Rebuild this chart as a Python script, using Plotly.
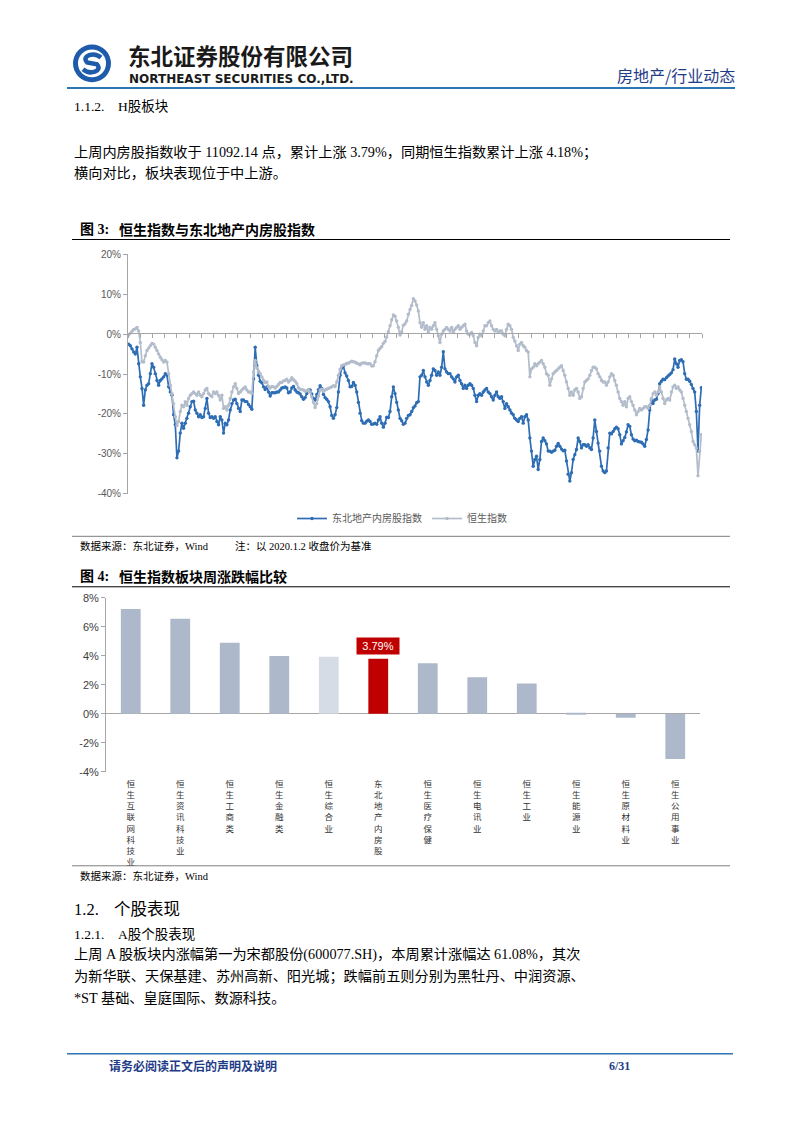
import plotly.graph_objects as go

W, H = 802, 1133

# ---------------- data: chart 1 (cumulative change since 2020.1.2, %) ----------------
series_names = ["东北地产内房股指数", "恒生指数"]

hk_property_a = [
    -2.5, -2.9, -3.7, -4.5, -5.0, -3.3, -7.4, -10.7, -13.6, -17.8,
    -14.0, -12.8, -12.4, -9.9, -7.4, -8.3, -9.9, -11.6, -12.8, -11.6,
    -11.2, -10.7, -9.9, -10.3, -13.2, -14.5, -15.3, -20.2, -22.7, -31.0,
    -29.3, -24.8, -22.3, -23.6, -22.3, -21.1, -19.8, -18.2, -16.9, -16.8,
    -19.0, -19.8, -20.7, -20.2, -20.9, -20.7, -18.6, -16.1, -19.8, -20.9,
    -20.7, -21.1, -20.7, -21.9, -22.7, -20.7, -21.5, -24.8, -22.3, -22.7,
    -21.5, -19.0, -17.4, -16.5, -16.3, -17.4, -18.6, -19.4, -16.5, -16.5,
    -16.9, -16.9, -17.6, -18.2, -18.8, -11.2, -3.3, -7.9, -10.3, -11.8,
    -12.2, -13.2, -13.9, -13.2, -14.5, -15.5, -14.7, -14.7, -14.7, -14.5,
    -14.5, -14.0, -13.5, -13.4, -13.2, -13.5, -14.7, -14.5, -13.5, -13.1,
    -14.0, -14.5, -14.7, -15.0, -15.7, -16.3, -15.9, -14.9, -14.0, -14.0,
    -15.0, -16.1, -16.5, -15.1, -13.9, -12.9, -13.6, -15.1, -15.9, -16.3,
    -16.9, -18.2, -20.4, -21.1, -20.2, -18.4, -14.5, -10.3, -8.5, -8.0,
    -9.7, -10.5, -11.6, -13.2, -13.1, -12.1, -12.8, -14.5, -17.1, -19.8,
    -21.7, -22.3, -22.3, -21.8, -21.5, -21.9, -22.6, -22.5, -22.3, -22.6,
    -21.5, -20.7, -22.3, -23.3, -22.3, -20.8, -20.9, -19.4, -15.7, -13.2,
    -14.9, -17.1, -19.0, -21.1, -21.7, -22.6, -22.3, -21.1, -20.4, -20.2,
    -19.4, -18.4, -18.0, -17.2, -16.9, -10.7, -10.3,
]
hk_property_b = [
    -9.1, -10.7, -12.0, -12.8, -11.6, -10.3, -8.7, -9.1, -10.3, -9.5,
    -10.3, -8.3, -4.4, -8.7, -9.5, -9.9, -9.9, -10.7, -11.2, -12.0,
    -10.7, -10.3, -11.6, -12.4, -13.6, -12.8, -13.6, -12.8, -12.4, -12.8,
    -13.6, -15.3, -16.9, -15.3, -14.9, -15.3, -14.5, -14.0, -13.6, -14.5,
    -14.9, -15.7, -16.5, -15.3, -14.5, -15.7, -16.1, -15.7, -16.9, -18.6,
    -17.4, -18.2, -19.0, -19.8, -20.2, -21.1, -21.5, -21.9, -21.1, -20.7,
    -22.3, -20.7, -20.2, -21.5, -26.0, -29.3, -33.1, -31.4, -30.6, -33.9,
    -31.4, -26.9, -26.0, -26.7, -27.5, -29.3, -29.3, -29.6, -29.3, -29.1,
    -28.1, -27.4, -28.1, -28.8, -29.2, -29.1, -31.8, -35.1, -36.8, -34.7,
    -31.4, -30.2, -28.9, -26.0, -26.9, -28.5, -27.7, -27.7, -28.1, -27.7,
    -28.5, -28.9, -26.0, -21.5, -24.4, -27.3, -29.3, -33.1, -34.3, -34.7,
    -34.3, -28.5, -24.8, -25.0, -24.4, -23.7, -23.3, -23.7, -25.2, -27.5,
    -26.7, -25.9, -24.5, -22.7, -23.1, -25.2, -26.3, -26.7, -26.6, -26.9,
    -27.0, -27.1, -27.5, -28.1, -26.4, -24.0, -19.0, -16.5, -17.4, -16.5,
    -16.3, -14.9, -12.4, -11.8, -11.3, -11.4, -10.9, -10.5, -10.1, -9.7,
    -8.9, -6.2, -7.4, -8.3, -6.6, -6.4, -6.9, -9.9, -11.3, -11.3,
    -11.8, -12.6, -13.6, -14.5, -19.4, -29.3, -17.8, -13.4,
]
hang_seng_a = [
    -0.2, 0.2, 0.7, 1.2, 1.3, 1.7, 0.8, -2.1, -6.9, -7.0,
    -5.4, -4.1, -3.5, -2.9, -2.3, -2.5, -3.3, -4.1, -5.0, -5.8,
    -6.4, -7.0, -6.6, -7.0, -9.9, -12.8, -14.9, -17.4, -20.7, -22.9,
    -21.9, -19.4, -17.8, -18.2, -16.9, -17.8, -16.1, -15.3, -14.9, -14.5,
    -14.9, -15.3, -14.5, -15.3, -15.7, -14.9, -14.0, -13.6, -14.9, -15.3,
    -15.7, -14.5, -14.9, -14.5, -15.3, -16.5, -15.3, -18.6, -18.2, -19.0,
    -17.8, -16.1, -14.5, -13.2, -12.4, -13.6, -14.9, -14.5, -14.0, -13.6,
    -13.2, -14.0, -14.5, -14.5, -14.9, -9.5, -6.6, -8.5, -9.3, -9.9,
    -10.7, -11.6, -12.1, -12.0, -13.1, -13.5, -13.1, -13.2, -13.5, -13.1,
    -12.6, -12.1, -12.1, -11.7, -11.6, -11.3, -12.0, -11.6, -10.9, -11.4,
    -11.8, -12.4, -13.4, -13.8, -13.9, -14.0, -14.3, -14.2, -14.0, -14.5,
    -15.7, -17.1, -18.4, -17.4, -15.5, -14.0, -13.8, -14.3, -14.0, -13.8,
    -13.6, -13.4, -13.2, -12.9, -13.1, -12.0, -10.3, -8.8, -7.9, -7.7,
    -7.6, -7.3, -7.3, -7.0, -6.8, -6.9, -7.0, -7.3, -7.4, -7.7,
    -7.3, -7.2, -7.2, -7.4, -7.4, -7.4, -8.0, -7.9, -6.9, -5.4,
    -4.1, -3.6, -3.1, -2.3, -1.8, -0.7, 0.6, 2.1, 3.6, 4.8,
    4.5, 3.3, 1.7, -0.2, 0.6, 2.2, 2.6, 3.3, 5.0, 6.2,
    7.2, 8.9, 8.3, 7.3, 5.8, 2.9, 1.7,
]
hang_seng_b = [
    2.9, 1.2, 2.1, 0.4, 1.7, 1.2, 2.1, 2.9, 1.2, -0.4,
    -2.1, 0.0, 0.8, 1.2, 1.7, 1.2, 0.8, 1.7, 0.4, 1.2,
    1.7, 2.1, 1.2, 1.7, 2.1, 2.5, 0.8, 0.0, 0.0, 0.4,
    -0.4, -2.1, -2.9, -0.8, 0.0, -0.4, 0.8, 2.1, 2.1, 2.9,
    3.3, 2.1, 1.2, 0.8, 1.2, 0.4, 0.8, 0.8, 0.0, -0.4,
    1.2, 2.5, 2.1, 1.2, -0.8, -1.7, -2.9, -4.1, -2.5, -2.1,
    -2.9, -3.3, -4.1, -4.5, -10.7, -8.7, -8.3, -7.4, -7.9, -7.4,
    -7.0, -6.6, -7.4, -8.3, -9.9, -10.3, -12.8, -11.2, -9.9, -9.5,
    -9.1, -8.7, -8.3, -7.9, -9.1, -10.3, -12.0, -13.6, -15.3, -14.5,
    -15.3, -14.0, -13.6, -14.5, -16.1, -15.7, -13.6, -12.0, -11.6, -11.2,
    -10.3, -9.1, -8.3, -8.3, -8.7, -9.9, -10.7, -11.6, -12.0, -12.0,
    -12.8, -12.0, -10.7, -9.9, -10.3, -11.6, -12.8, -14.5, -16.1, -16.9,
    -17.8, -16.9, -18.2, -16.1, -15.7, -16.9, -17.8, -19.0, -20.2, -19.4,
    -18.6, -19.0, -18.6, -18.2, -18.2, -18.6, -17.8, -16.1, -14.9, -14.5,
    -15.3, -14.5, -13.2, -14.5, -16.1, -17.4, -16.5, -16.1, -16.5, -14.5,
    -13.2, -12.8, -13.6, -13.2, -14.0, -14.5, -16.1, -17.8, -19.4, -21.1,
    -22.7, -24.4, -26.9, -27.7, -28.5, -35.5, -29.3, -25.2,
]
hk_property = hk_property_a + hk_property_b
hang_seng = hang_seng_a + hang_seng_b
obs = list(range(len(hk_property)))

line_ticks = [-40, -30, -20, -10, 0, 10, 20]

# ---------------- data: chart 2 (weekly change by sector, %) ----------------
sectors = ["恒生互联网科技业", "恒生资讯科技业", "恒生工商类", "恒生金融类", "恒生综合业",
           "东北地产内房股", "恒生医疗保健", "恒生电讯业", "恒生工业", "恒生能源业",
           "恒生原材料业", "恒生公用事业"]
weekly_change = [7.22, 6.55, 4.90, 3.98, 3.93, 3.79, 3.48, 2.52, 2.08, 0.05, -0.28, -3.12]
bar_ticks = [-4, -2, 0, 2, 4, 6, 8]
highlight = "东北地产内房股"

# ---------------- styles ----------------
BLUE = "#2E6DB4"
GREY_LINE = "#B3BCCB"
BAR = "#ADB9CA"
BAR_LIGHT = "#D6DCE5"
RED = "#C00000"
AXIS = "#A6A6A6"
NAVY = "#1F3C88"
CJK = "Noto Sans CJK SC"
SERIF = "'Liberation Serif', 'Noto Sans CJK SC', serif"
SANS = "'Liberation Sans', Arial, sans-serif"
bar_colors = [RED if s == highlight else (BAR_LIGHT if s == "恒生综合业" else BAR) for s in sectors]


def px(x):
    return x / W


def py(y):
    return 1 - y / H


fig = go.Figure()

fig.add_trace(go.Scatter(
    x=obs, y=hk_property, name=series_names[0], mode="lines+markers",
    line=dict(color=BLUE, width=1.7), marker=dict(size=3.4, color=BLUE),
    xaxis="x", yaxis="y"))
fig.add_trace(go.Scatter(
    x=obs, y=hang_seng, name=series_names[1], mode="lines+markers",
    line=dict(color=GREY_LINE, width=1.7), marker=dict(size=3.4, color=GREY_LINE),
    xaxis="x", yaxis="y"))

fig.add_trace(go.Bar(
    x=sectors, y=weekly_change, marker=dict(color=bar_colors, line=dict(width=0)),
    width=0.4, showlegend=False, hoverinfo="skip", xaxis="x2", yaxis="y2"))

n = len(obs)
x_lo, x_hi = -0.4, n - 1 + 0.4

layout = dict(
    width=W, height=H, autosize=False,
    margin=dict(l=0, r=0, t=0, b=0),
    paper_bgcolor="white", plot_bgcolor="rgba(0,0,0,0)",
    showlegend=True,
    legend=dict(orientation="h", x=px(292), y=py(518), xanchor="left", yanchor="middle",
                font=dict(family=CJK, size=10, color="#595959"), bgcolor="rgba(0,0,0,0)",
                itemwidth=30, tracegroupgap=0),
    xaxis=dict(domain=[px(128), px(702)], range=[x_lo, x_hi], anchor="free", position=py(331),
               showline=True, linecolor=AXIS, linewidth=1, ticks="outside", ticklen=4,
               tickcolor=AXIS, tickmode="linear", tick0=x_lo, dtick=(x_hi - x_lo) / 47,
               showticklabels=False, showgrid=False, zeroline=False),
    yaxis=dict(domain=[py(493), py(251)], range=[-40, 20], anchor="x",
               tickmode="array", tickvals=line_ticks, ticktext=[f"{v}%" for v in line_ticks],
               showline=True, linecolor=AXIS, linewidth=1, ticks="outside", ticklen=4,
               tickcolor=AXIS, showgrid=False, zeroline=False,
               tickfont=dict(family=SANS, size=10, color="#595959")),
    xaxis2=dict(domain=[px(106), px(700)], anchor="y2", type="category",
                tickmode="array", tickvals=sectors,
                ticktext=["<br>".join(list(s)) for s in sectors],
                tickangle=0, showline=False, ticks="", showgrid=False, zeroline=False,
                ticklabelstandoff=6,
                tickfont=dict(family=CJK, size=8.5, color="#333333")),
    yaxis2=dict(domain=[py(774), py(598)], range=[-4, 8], anchor="x2",
                tickmode="array", tickvals=bar_ticks, ticktext=[f"{v}%" for v in bar_ticks],
                showline=True, linecolor=AXIS, linewidth=1, ticks="outside", ticklen=4,
                tickcolor=AXIS, showgrid=False, zeroline=True, zerolinecolor=AXIS,
                zerolinewidth=1, tickfont=dict(family=SANS, size=11, color="#404040")),
    bargap=0.6,
)
fig.update_layout(**layout)

# value label on the highlighted bar
hi_idx = sectors.index(highlight)
fig.add_annotation(x=highlight, y=weekly_change[hi_idx], xref="x2", yref="y2",
                   text=f"{weekly_change[hi_idx]:.2f}%", showarrow=False, yanchor="bottom",
                   yshift=4, bgcolor=RED, width=40, height=14, borderpad=1,
                   font=dict(family=SANS, size=11, color="white"))

shapes = []


def hline(y, x0, x1, color, width):
    shapes.append(dict(type="line", xref="paper", yref="paper", x0=px(x0), x1=px(x1),
                       y0=py(y), y1=py(y), line=dict(color=color, width=width)))


def text(x, y, s, size, color="#000000", family=SERIF, anchor="left"):
    fig.add_annotation(x=px(x), y=py(y), xref="paper", yref="paper", text=s, showarrow=False,
                       xanchor=anchor, yanchor="middle", font=dict(family=family, size=size, color=color))


# header
hline(83, 67, 735, "#2E75B6", 2)
cx, cy, r = 92, 58, 19
shapes.append(dict(type="circle", xref="paper", yref="paper", x0=px(cx - r), x1=px(cx + r),
                   y0=py(cy + r), y1=py(cy - r), fillcolor="#1E5BAA", line=dict(width=0)))
r2 = 14
shapes.append(dict(type="circle", xref="paper", yref="paper", x0=px(cx - r2), x1=px(cx + r2),
                   y0=py(cy + r2), y1=py(cy - r2), fillcolor="white", line=dict(width=0)))
s_path = (f"M {px(cx+9)} {py(cy-6)} C {px(cx+2)} {py(cy-12)}, {px(cx-11)} {py(cy-8)}, {px(cx-5)} {py(cy-1)} "
          f"L {px(cx+5)} {py(cy+1)} C {px(cx+11)} {py(cy+8)}, {px(cx-2)} {py(cy+12)}, {px(cx-9)} {py(cy+6)}")
shapes.append(dict(type="path", xref="paper", yref="paper", path=s_path,
                   line=dict(color="#1E5BAA", width=4.5)))
text(126, 50, "<b>东北证券股份有限公司</b>", 22.5, "#1a1a1a", CJK)
text(127, 74, "<b>NORTHEAST SECURITIES CO.,LTD.</b>", 12, "#1a1a1a", "'DejaVu Sans', sans-serif")
text(737, 70, "房地产/行业动态", 16, NAVY, CJK, anchor="right")

BODY = 14.2

# section 1.1.2
text(72, 102, "1.1.2.", 13.5)
text(116, 102, "H股板块", 13.5)
text(72, 148, "上周内房股指数收于 11092.14 点，累计上涨 3.79%，同期恒生指数累计上涨 4.18%；", BODY)
text(72, 169, "横向对比，板块表现位于中上游。", BODY)

# figure 3 title / source
text(78, 226, "<b>图 3:</b>", 14)
text(117, 226, "<b>恒生指数与东北地产内房股指数</b>", 14)
hline(236, 72, 730, "#000000", 1)
hline(536, 72, 730, "#7F7F7F", 1)
text(78, 546, "数据来源：东北证券，Wind", 10.5)
text(233, 546, "注：以 2020.1.2 收盘价为基准", 10.5)

# figure 4 title / source
text(78, 577, "<b>图 4:</b>", 14)
text(117, 577, "<b>恒生指数板块周涨跌幅比较</b>", 14)
hline(587, 72, 730, "#000000", 1)
hline(869, 72, 730, "#7F7F7F", 1)
text(78, 879, "数据来源：东北证券，Wind", 10.5)

# section 1.2
text(72, 913, "1.2.", 16.5)
text(112, 913, "个股表现", 16.5)
text(72, 938, "1.2.1.", 13.5)
text(116, 938, "A股个股表现", 13.5)
text(72, 959, "上周 A 股板块内涨幅第一为宋都股份(600077.SH)，本周累计涨幅达 61.08%，其次", BODY)
text(72, 981, "为新华联、天保基建、苏州高新、阳光城；跌幅前五则分别为黑牡丹、中润资源、", BODY)
text(72, 1003, "*ST 基础、皇庭国际、数源科技。", BODY)

# footer
hline(1059, 67, 733, "#2E75B6", 1.5)
text(107, 1071, "<b>请务必阅读正文后的声明及说明</b>", 12, NAVY, CJK)
text(607, 1071, "<b>6/31</b>", 12, NAVY)

fig.update_layout(shapes=shapes)
fig.write_html("out.html")
